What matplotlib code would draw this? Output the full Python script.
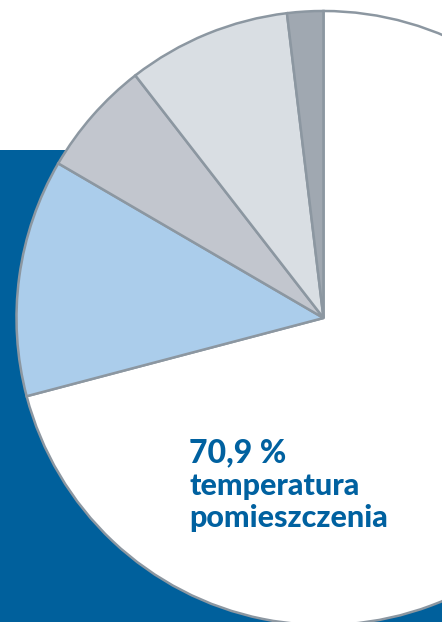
import matplotlib
matplotlib.use("Agg")
import matplotlib.pyplot as plt
from matplotlib.patches import Rectangle

# slice shares (clockwise from top)
labels = ["temperatura pomieszczenia", "b", "c", "d", "e"]
values = [70.9, 12.5, 6.1, 8.6, 1.9]
colors = ["#FFFFFF", "#ABCDEB", "#C2C6CE", "#D9DEE3", "#A0A8B1"]

W, H = 442, 622
fig = plt.figure(figsize=(W / 100, H / 100), dpi=100)
ax = fig.add_axes([0, 0, 1, 1])

# blue background block
ax.add_patch(Rectangle((0, 0), W, H - 150, facecolor="#00609C", edgecolor="none", zorder=0))

ax.pie(values, colors=colors, startangle=90, counterclock=False,
       center=(323.5, H - 318), radius=307,
       wedgeprops=dict(edgecolor="#8C97A1", linewidth=1.8),
       frame=True)

txt_color = "#0061A0"
ax.text(189, H - 462, "70,9 %", color=txt_color, fontsize=23, fontweight=900,
        family="Lato", ha="left", va="baseline")
ax.text(189, H - 495, "temperatura", color=txt_color, fontsize=22, fontweight=900,
        family="Lato", ha="left", va="baseline")
ax.text(189, H - 527, "pomieszczenia", color=txt_color, fontsize=22, fontweight=900,
        family="Lato", ha="left", va="baseline")

ax.set_xlim(0, W)
ax.set_ylim(0, H)
ax.set_aspect("equal")
ax.axis("off")

fig.savefig("out.png", dpi=100)
